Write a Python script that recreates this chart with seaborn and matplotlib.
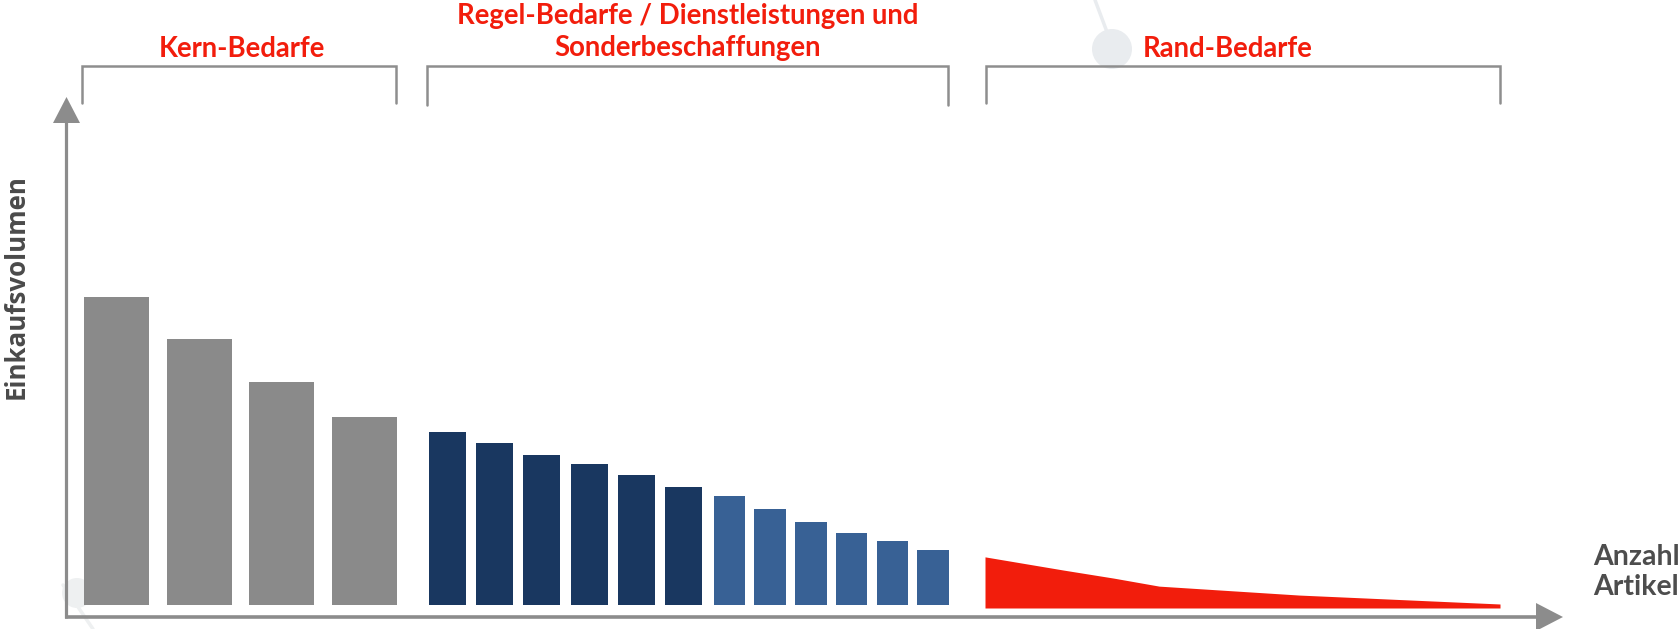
import matplotlib
matplotlib.use("Agg")
import matplotlib.pyplot as plt
from matplotlib.patches import Polygon, Circle
import seaborn as sns

# values (relative purchasing volume, first bar = 100)
kern_labels = ["K1", "K2", "K3", "K4"]
kern_values = [100.0, 86.4, 72.4, 61.0]

regel_a_labels = ["R1", "R2", "R3", "R4", "R5", "R6"]
regel_a_values = [56.2, 52.6, 48.7, 45.8, 42.2, 38.3]

regel_b_labels = ["R7", "R8", "R9", "R10", "R11", "R12"]
regel_b_values = [35.4, 31.2, 26.9, 23.4, 20.8, 17.9]

# long tail: share of articles in the group (%) vs. volume
rand_share = [0, 15.3, 25.0, 33.8, 61.0, 100.0]
rand_values = [16.6, 12.3, 9.7, 7.1, 4.2, 1.3]

group_titles = ["Kern-Bedarfe",
                "Regel-Bedarfe / Dienstleistungen und\nSonderbeschaffungen",
                "Rand-Bedarfe"]
y_title = "Einkaufsvolumen"
x_title = "Anzahl\nArtikel"

# colours
GRAY = "#8a8a8a"
NAVY = "#193760"
BLUE = "#386195"
RED = "#f21d0c"
AXIS = "#8c8c8c"
TEXT = "#4a4a4a"
DECO = "#e9ecef"

W, H = 1681, 629

sns.set_theme(style="white")
plt.rcParams["font.family"] = ["Lato", "DejaVu Sans"]

fig = plt.figure(figsize=(W / 100, H / 100), dpi=100)


def px_axes(left, right, bottom, top, z=1):
    return fig.add_axes([left / W, (H - bottom) / H, (right - left) / W, (bottom - top) / H],
                        zorder=z)


# background layer in pixel coordinates: axes arrows, brackets, labels
bg = fig.add_axes([0, 0, 1, 1], zorder=0)
bg.set_xlim(0, W)
bg.set_ylim(H, 0)
bg.axis("off")

# faint decoration behind the chart
bg.plot([1095, 1107], [0, 32], color=DECO, lw=2.5, solid_capstyle="round")
bg.add_patch(Circle((1112, 49), 20, color=DECO, lw=0))
bg.plot([63, 93], [585, 629], color="#eef0f1", lw=2.5)
bg.add_patch(Circle((77, 593), 15, color="#eef0f1", lw=0))

# axis arrows
bg.plot([66, 66], [618, 120], color=AXIS, lw=2.3, solid_capstyle="butt")
bg.add_patch(Polygon([[53, 123], [80, 123], [66.5, 97]], closed=True, color=AXIS, lw=0))
bg.plot([64.8, 1538], [617, 617], color=AXIS, lw=2.6, solid_capstyle="butt")
bg.add_patch(Polygon([[1536, 603], [1536, 631], [1563, 617]], closed=True, color=AXIS, lw=0))

# group brackets
for x0, x1, y1 in [(82, 396, 103), (427, 948, 105), (986, 1500, 103)]:
    bg.plot([x0, x0, x1, x1], [y1, 66, 66, y1], color="#8e8e8e", lw=1.8,
            solid_joinstyle="miter")

title_kw = dict(color=RED, fontsize=19.8, fontweight="bold", family=["Lato", "DejaVu Sans"],
                ha="center", va="center")
bg.text(242, 49, group_titles[0], **title_kw)
bg.text(688, 32, group_titles[1], linespacing=1.24, **title_kw)
bg.text(1228, 49, group_titles[2], **title_kw)

bg.text(16.5, 287, y_title, rotation=90, ha="center", va="center", color=TEXT,
        fontsize=18.6, fontweight="bold", family=["Open Sans", "DejaVu Sans"])
bg.text(1593, 572, x_title, ha="left", va="center", color="#4d4d4d", linespacing=1.2,
        fontsize=20.5, fontweight="bold", family=["Lato", "DejaVu Sans"])

# bar groups, each on its own axes with a common value scale
BASE, TOP = 605, 297   # pixel rows for 0 and 100
groups = [
    (kern_labels, kern_values, GRAY, 75.2, 405.8, 0.786),
    (regel_a_labels, regel_a_values, NAVY, 423.9, 707.1, 0.784),
    (regel_b_labels, regel_b_values, BLUE, 709.15, 953.35, 0.774),
]
for labels, values, colour, left, right, width in groups:
    ax = px_axes(left, right, BASE, TOP)
    sns.barplot(x=labels, y=values, ax=ax, color=colour, width=width,
                saturation=1, linewidth=0)
    ax.set_xlim(-0.5, len(labels) - 0.5)
    ax.set_ylim(0, 100)
    ax.axis("off")

# long tail as a filled area
ax = px_axes(985, 1500, BASE + 3, TOP + 3)
ax.fill_between(rand_share, rand_values, 0, color=RED, lw=0)
ax.set_xlim(0, 100)
ax.set_ylim(0, 100)
ax.axis("off")

fig.savefig("out.png", dpi=100)
